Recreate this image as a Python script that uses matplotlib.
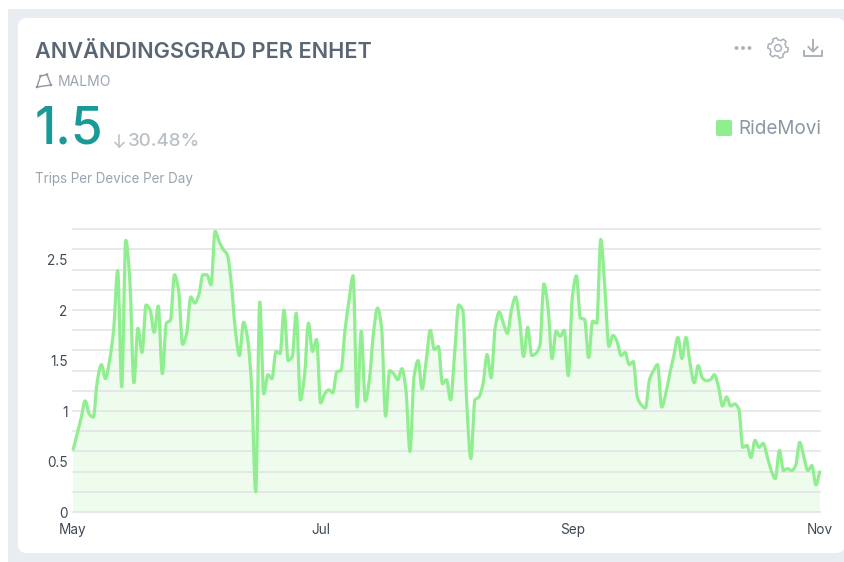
#!/usr/bin/env python3
"""Usage-per-device card: daily trips per device, May to Nov."""

import matplotlib
matplotlib.use("Agg")
import matplotlib.pyplot as plt
import numpy as np
from matplotlib.patches import Circle, FancyBboxPatch, PathPatch, Polygon, Rectangle
from matplotlib.path import Path

W, H = 845, 562

TITLE = "ANVÄNDINGSGRAD PER ENHET"
REGION = "MALMO"
HEADLINE = "1.5"
CHANGE = "30.48%"
METRIC = "Trips Per Device Per Day"
SERIES_NAME = "RideMovi"

MONTH_LABELS = ["May", "Jul", "Sep", "Nov"]
MONTH_DAYS = [0, 61, 123, 184]
Y_LABELS = [0, 0.5, 1, 1.5, 2, 2.5]
GRID_LEVELS = [0, 0.2, 0.4, 0.6, 0.8, 1.0, 1.2, 1.4, 1.6, 1.8, 2.0, 2.2, 2.4, 2.6, 2.8]

# one value per day, May 1 to Nov 1
TRIPS = [
    0.61, 0.77, 0.93, 1.10, 0.97, 0.94, 1.30, 1.46, 1.32, 1.50,
    1.80, 2.39, 1.24, 2.69, 2.30, 1.28, 1.82, 1.58, 2.05, 2.00,
    1.78, 2.04, 1.37, 1.87, 1.90, 2.35, 2.20, 1.66, 1.77, 2.13,
    2.07, 2.15, 2.35, 2.35, 2.25, 2.78, 2.68, 2.60, 2.55, 2.26,
    1.80, 1.55, 1.88, 1.72, 1.24, 0.20, 2.08, 1.17, 1.36, 1.32,
    1.59, 1.57, 2.00, 1.50, 1.54, 1.97, 1.11, 1.34, 1.87, 1.59,
    1.71, 1.08, 1.17, 1.21, 1.18, 1.39, 1.40, 1.80, 2.10, 2.34,
    1.04, 1.79, 1.10, 1.31, 1.77, 2.02, 1.83, 0.95, 1.40, 1.37,
    1.31, 1.42, 1.21, 0.60, 1.34, 1.50, 1.22, 1.50, 1.80, 1.61,
    1.64, 1.27, 1.31, 1.11, 1.57, 2.05, 2.00, 1.07, 0.53, 1.11,
    1.14, 1.27, 1.56, 1.33, 1.83, 1.98, 1.87, 1.77, 2.00, 2.13,
    1.90, 1.54, 1.83, 1.55, 1.57, 1.65, 2.26, 2.03, 1.52, 1.79,
    1.74, 1.80, 1.35, 2.13, 2.34, 1.92, 1.91, 1.53, 1.89, 1.87,
    2.70, 2.23, 1.64, 1.75, 1.69, 1.55, 1.58, 1.46, 1.49, 1.14,
    1.06, 1.03, 1.31, 1.40, 1.46, 1.04, 1.17, 1.37, 1.55, 1.73,
    1.52, 1.73, 1.47, 1.28, 1.45, 1.33, 1.30, 1.31, 1.36, 1.24,
    1.05, 1.14, 1.05, 1.07, 1.02, 0.64, 0.66, 0.54, 0.71, 0.64,
    0.68, 0.55, 0.41, 0.33, 0.61, 0.41, 0.43, 0.41, 0.46, 0.69,
    0.55, 0.41, 0.46, 0.27, 0.41,
]

GREEN = "#90ee90"
INK = "#5a6675"
MUTED = "#9aa5b1"
ICON = "#a9b1ba"


def monotone_path(x, y):
    # monotone cubic through the daily values, as the original chart smooths them
    x = np.asarray(x, dtype=float)
    y = np.asarray(y, dtype=float)
    h = np.diff(x)
    s = np.diff(y) / h
    m = np.zeros_like(y)
    m[0], m[-1] = s[0], s[-1]
    for i in range(1, len(y) - 1):
        if s[i - 1] * s[i] > 0:
            m[i] = 2 * s[i - 1] * s[i] / (s[i - 1] + s[i])
    verts = [(x[0], y[0])]
    codes = [Path.MOVETO]
    for i in range(len(h)):
        verts += [
            (x[i] + h[i] / 3, y[i] + m[i] * h[i] / 3),
            (x[i + 1] - h[i] / 3, y[i + 1] - m[i + 1] * h[i] / 3),
            (x[i + 1], y[i + 1]),
        ]
        codes += [Path.CURVE4] * 3
    return verts, codes


def draw_chrome(bg):
    bg.add_patch(Rectangle((8, 9), W - 8, H - 9, fc="#e9edf2", ec="none"))
    bg.add_patch(FancyBboxPatch((18, 18), W - 18, 535, boxstyle="round,pad=0,rounding_size=9",
                                fc="white", ec="none"))

    bg.text(35, 51.5, TITLE, fontsize=15.6, fontweight=600, color=INK, va="center", ha="left")
    bg.text(58, 82.5, REGION, fontsize=10, color=MUTED, va="center", ha="left")
    bg.text(34.5, 130.5, HEADLINE, fontsize=37, fontweight=500, color="#1a9a96", va="center", ha="left")
    bg.text(128, 142, CHANGE, fontsize=13.5, fontweight=500, color="#b9c0c7", va="center", ha="left")
    bg.text(35, 179.5, METRIC, fontsize=9.7, color=MUTED, va="center", ha="left")
    bg.text(738, 129, SERIES_NAME, fontsize=13.6, color="#8a97a6", va="center", ha="left")
    bg.add_patch(FancyBboxPatch((716, 120), 16, 16, boxstyle="round,pad=0,rounding_size=2",
                                fc=GREEN, ec="none"))

    # polygon marker next to the region
    pts = [(37, 87), (40.5, 76), (47, 74.5), (51, 85)]
    bg.add_patch(Polygon(pts, closed=True, fc="none", ec="#8d96a1", lw=1.0))
    for px, py in pts:
        bg.add_patch(Circle((px, py), 1.3, fc="#8d96a1", ec="none"))

    # down arrow in front of the change
    bg.plot([119.5, 119.5], [135, 147], color="#b9c0c7", lw=1.1)
    bg.plot([115, 119.5, 124], [142.5, 147, 142.5], color="#b9c0c7", lw=1.1)

    # more / settings / download icons
    for cx in (736.5, 743, 749.5):
        bg.add_patch(Circle((cx, 48), 1.9, fc=ICON, ec="none"))
    ang = np.linspace(0, 2 * np.pi, 49)
    rad = np.where(np.arange(49) % 8 < 4, 10.2, 8.0)
    bg.add_patch(Polygon(np.c_[778 + rad * np.cos(ang), 48 + rad * np.sin(ang)], closed=True,
                         fc="none", ec=ICON, lw=1.1))
    bg.add_patch(Circle((778, 48), 3.4, fc="none", ec=ICON, lw=1.1))
    bg.plot([813, 813], [40, 51], color=ICON, lw=1.4)
    bg.plot([808.5, 813, 817.5], [47, 51.5, 47], color=ICON, lw=1.4)
    bg.plot([804, 804, 822, 822], [51, 55.5, 55.5, 51], color=ICON, lw=1.4)


def main():
    fig = plt.figure(figsize=(W / 100, H / 100), dpi=100, facecolor="white")
    plt.rcParams["font.family"] = ["Inter", "DejaVu Sans"]

    bg = fig.add_axes([0, 0, 1, 1])
    bg.set_xlim(0, W)
    bg.set_ylim(H, 0)
    bg.axis("off")
    draw_chrome(bg)

    left, right, top, bottom = 73, 820, 229.3, 512
    ax = fig.add_axes([left / W, 1 - bottom / H, (right - left) / W, (bottom - top) / H])
    ax.patch.set_alpha(0)
    ax.set_xlim(0, 184)
    ax.set_ylim(0, 2.8)

    days = np.arange(len(TRIPS))
    verts, codes = monotone_path(days, TRIPS)
    area_verts = verts + [(days[-1], 0), (days[0], 0), verts[0]]
    area_codes = codes + [Path.LINETO, Path.LINETO, Path.CLOSEPOLY]
    ax.add_patch(PathPatch(Path(area_verts, area_codes), fc=GREEN, alpha=0.16, ec="none", zorder=1))
    for level in GRID_LEVELS:
        ax.axhline(level, color="#e0e2e4", lw=1.1, zorder=2, clip_on=False)
    ax.add_patch(PathPatch(Path(verts, codes), fc="none", ec=GREEN, lw=2.3, zorder=3, clip_on=False,
                           joinstyle="round"))

    for side in ax.spines.values():
        side.set_visible(False)
    ax.set_yticks(Y_LABELS, [f"{v:g}" for v in Y_LABELS])
    ax.set_xticks(MONTH_DAYS, MONTH_LABELS)
    ax.tick_params(axis="both", length=0, labelsize=9.8, labelcolor="#3f4a55")
    ax.tick_params(axis="y", pad=4)
    ax.tick_params(axis="x", pad=8)

    fig.savefig("out.png", dpi=100)
    plt.close(fig)


if __name__ == "__main__":
    main()
